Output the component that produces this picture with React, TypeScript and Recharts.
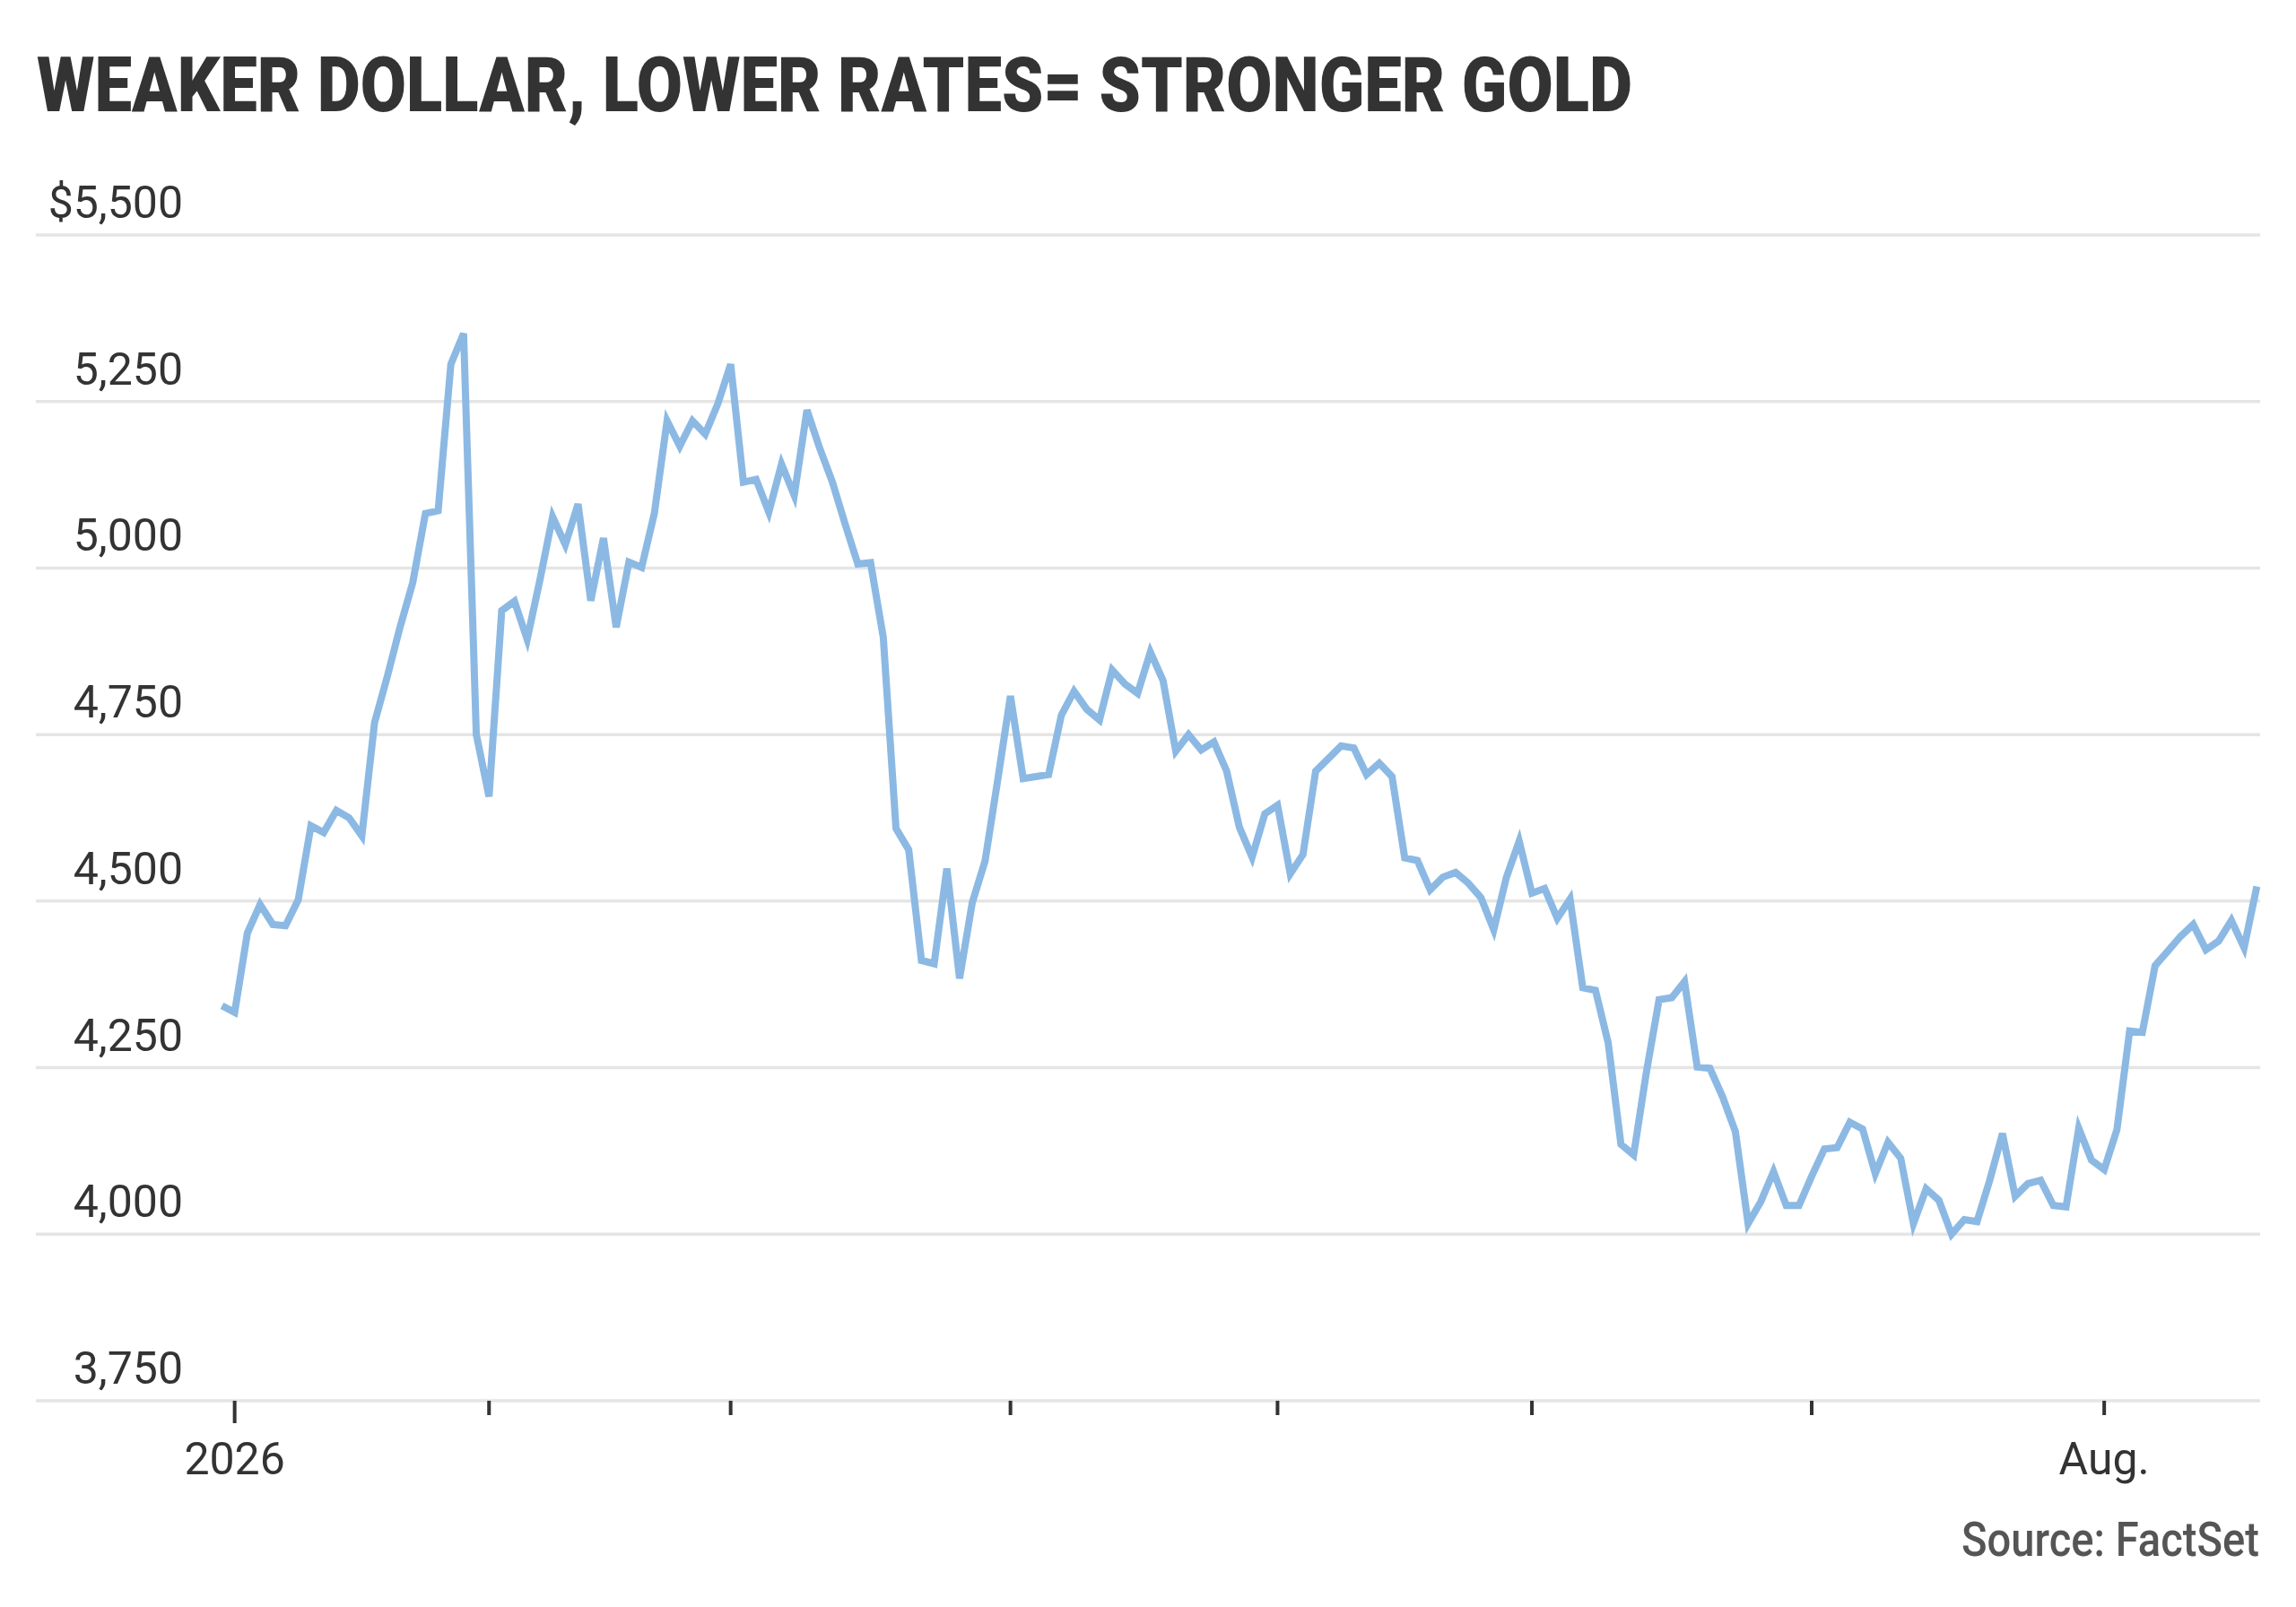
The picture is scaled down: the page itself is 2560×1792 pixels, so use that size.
import React from 'react';
import { LineChart, Line, XAxis, YAxis, CartesianGrid } from 'recharts';

// Daily gold price (USD/oz), one value per trading day, starting 31 Dec 2025
const prices: number[] = [
  4343, 4333, 4452, 4495, 4465, 4463, 4502, 4613, 4603, 4636,
  4625, 4598, 4768, 4837, 4911, 4978, 5082, 5086, 5306, 5352,
  4750, 4657, 4936, 4950, 4893, 4982, 5077, 5035, 5096, 4951,
  5045, 4911, 5009, 5001, 5082, 5221, 5183, 5221, 5201, 5247,
  5306, 5129, 5133, 5084, 5156, 5109, 5237, 5180, 5129, 5066,
  5006, 5008, 4896, 4609, 4577, 4411, 4406, 4549, 4384, 4498,
  4560, 4682, 4808, 4684, 4687, 4690, 4779, 4815, 4788, 4772,
  4847, 4826, 4812, 4874, 4831, 4725, 4750, 4727, 4739, 4695,
  4611, 4566, 4631, 4644, 4541, 4570, 4695, 4714, 4733, 4730,
  4690, 4707, 4687, 4565, 4561, 4517, 4536, 4543, 4527, 4505,
  4457, 4536, 4590, 4512, 4519, 4474, 4503, 4370, 4366, 4287,
  4135, 4119, 4243, 4352, 4355, 4379, 4251, 4249, 4206, 4154,
  4016, 4049, 4094, 4043, 4043, 4087, 4128, 4130, 4168, 4158,
  4091, 4138, 4114, 4016, 4068, 4051, 4000, 4022, 4019, 4081,
  4151, 4057, 4076, 4081, 4043, 4041, 4159, 4111, 4097, 4157,
  4305, 4303, 4403, 4425, 4447, 4465, 4427, 4440, 4471, 4430,
  4522,
];

// Trading-day index where each month starts
const monthTicks: number[] = [1, 21, 40, 62, 83, 103, 125, 148];
const monthTickLabels: string[] = ['2026', '', '', '', '', '', '', 'Aug.'];

const yTicks: number[] = [3750, 4000, 4250, 4500, 4750, 5000, 5250, 5500];
const yTickLabels: string[] = ['3,750', '4,000', '4,250', '4,500', '4,750', '5,000', '5,250', '$5,500'];

const titleText = 'WEAKER DOLLAR, LOWER RATES= STRONGER GOLD';
const sourceText = 'Source: FactSet';

const data = prices.map((p, i) => ({ day: i, price: p }));

const W = 2560;
const H = 1792;
const PLOT_TOP = 262;
const PLOT_BOTTOM = 1562;
const X_AXIS_H = 60;
const FONT = 'Roboto, "Noto Sans", sans-serif';

const YTick = (props: any) => {
  const { y, payload } = props;
  const idx = yTicks.indexOf(payload.value);
  return (
    <text x={204} y={y - 19} textAnchor="end" fontFamily={FONT} fontSize={50} fill="#333333">
      {yTickLabels[idx]}
    </text>
  );
};

const XTick = (props: any) => {
  const { x, payload } = props;
  const idx = monthTicks.indexOf(payload.value);
  const label = monthTickLabels[idx];
  const len = idx === 0 ? 25 : 16;
  return (
    <g>
      <line x1={x} x2={x} y1={PLOT_BOTTOM} y2={PLOT_BOTTOM + len} stroke="#333333" strokeWidth={4} />
      {label ? (
        <text x={x} y={1644} textAnchor="middle" fontFamily={FONT} fontSize={50} fill="#333333">
          {label}
        </text>
      ) : null}
    </g>
  );
};

export default function App() {
  return (
    <div style={{ position: 'relative', width: W, height: H, background: '#ffffff' }}>
      <style>{`body{margin:0;background:#fff}`}</style>
      <LineChart
        width={W}
        height={H}
        data={data}
        margin={{ top: PLOT_TOP, right: 40, bottom: H - PLOT_BOTTOM - X_AXIS_H, left: 39 }}
      >
        <CartesianGrid vertical={false} stroke="#e5e5e5" strokeWidth={3.5} />
        <XAxis
          dataKey="day"
          type="number"
          domain={[-14.63, 160.26]}
          allowDataOverflow
          ticks={monthTicks}
          interval={0}
          height={X_AXIS_H}
          axisLine={false}
          tickLine={false}
          tick={<XTick />}
          padding={{ left: 0, right: 0 }}
        />
        <YAxis
          type="number"
          domain={[3750, 5500]}
          ticks={yTicks}
          interval={0}
          width={1}
          axisLine={false}
          tickLine={false}
          tick={<YTick />}
          allowDataOverflow
        />
        <Line
          type="linear"
          dataKey="price"
          stroke="#8cb9e3"
          strokeWidth={8}
          dot={false}
          activeDot={false}
          isAnimationActive={false}
        />
      </LineChart>
      <svg
        width={W}
        height={H}
        style={{ position: 'absolute', left: 0, top: 0, pointerEvents: 'none' }}
      >
        <text
          x={41}
          y={124}
          fontFamily={FONT}
          fontWeight={900}
          fontSize={86}
          fill="#333333"
          textLength={1779}
          lengthAdjust="spacingAndGlyphs"
        >
          {titleText}
        </text>
        <text
          x={2519}
          y={1735}
          textAnchor="end"
          fontFamily={FONT}
          fontWeight={500}
          fontSize={53}
          fill="#555555"
          textLength={332}
          lengthAdjust="spacingAndGlyphs"
        >
          {sourceText}
        </text>
      </svg>
    </div>
  );
}
